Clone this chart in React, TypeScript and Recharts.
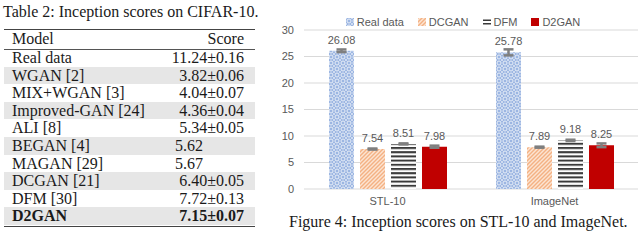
import React from "react"
import { Bar, BarChart, CartesianGrid, ErrorBar, LabelList, Legend, XAxis, YAxis } from "recharts"

// table (left side)
const tableModels = [
  "Real data",
  "WGAN [2]",
  "MIX+WGAN [3]",
  "Improved-GAN [24]",
  "ALI [8]",
  "BEGAN [4]",
  "MAGAN [29]",
  "DCGAN [21]",
  "DFM [30]",
  "D2GAN",
]
const tableScores = [
  "11.24±0.16",
  "3.82±0.06",
  "4.04±0.07",
  "4.36±0.04",
  "5.34±0.05",
  "5.62",
  "5.67",
  "6.40±0.05",
  "7.72±0.13",
  "7.15±0.07",
]

// chart (right side)
const categories = ["STL-10", "ImageNet"]
const realData = [26.08, 25.78]
const dcgan = [7.54, 7.89]
const dfm = [8.51, 9.18]
const d2gan = [7.98, 8.25]
const realErr = [0.25, 0.57]
const dcganErr = [0.1, 0.1]
const dfmErr = [0.1, 0.12]
const d2ganErr = [0.2, 0.35]
const yTicks = [0, 5, 10, 15, 20, 25, 30]

const data = categories.map((name, i) => ({
  name,
  real: realData[i],
  dcgan: dcgan[i],
  dfm: dfm[i],
  d2gan: d2gan[i],
  realErr: realErr[i],
  dcganErr: dcganErr[i],
  dfmErr: dfmErr[i],
  d2ganErr: d2ganErr[i],
}))

const series = [
  { key: "real", name: "Real data", fill: "url(#patReal)" },
  { key: "dcgan", name: "DCGAN", fill: "url(#patDcgan)" },
  { key: "dfm", name: "DFM", fill: "url(#patDfm)" },
  { key: "d2gan", name: "D2GAN", fill: "#c00000" },
]

const gray = "#595959"
const chartFont = "Liberation Sans, Arial, sans-serif"

function Patterns() {
  return (
    <defs>
      <pattern id="patReal" width="6" height="6" patternUnits="userSpaceOnUse">
        <rect width="6" height="6" fill="#9cb6e2" />
        <circle cx="3" cy="3" r="2" fill="none" stroke="#e8eef8" strokeWidth="1" />
        <circle cx="0" cy="0" r="0.9" fill="#e8eef8" />
        <circle cx="6" cy="6" r="0.9" fill="#e8eef8" />
        <circle cx="0" cy="6" r="0.9" fill="#e8eef8" />
        <circle cx="6" cy="0" r="0.9" fill="#e8eef8" />
      </pattern>
      <pattern id="patDcgan" width="4" height="4" patternUnits="userSpaceOnUse">
        <rect width="4" height="4" fill="#fce4d2" />
        <path d="M-1,1 l2,-2 M0,4 l4,-4 M3,5 l2,-2" stroke="#f4b183" strokeWidth="1.4" />
      </pattern>
      <pattern id="patDfm" width="4" height="4.2" patternUnits="userSpaceOnUse">
        <rect width="4" height="4.2" fill="#ffffff" />
        <rect y="0" width="4" height="2" fill="#3a3a3a" />
      </pattern>
    </defs>
  )
}

function LegendContent() {
  return (
    <div
      style={{
        display: "flex",
        justifyContent: "center",
        gap: 14,
        fontFamily: chartFont,
        fontSize: 11,
        color: gray,
        height: 16,
        alignItems: "center",
        paddingLeft: 8,
      }}
    >
      {series.map((s) => (
        <span key={s.key} style={{ display: "flex", alignItems: "center", gap: 3 }}>
          <svg width="8" height="8">
            {s.key === "dfm" ? (
              <g>
                <rect y="1.5" width="8" height="1.5" fill="#3a3a3a" />
                <rect y="5" width="8" height="1.5" fill="#3a3a3a" />
              </g>
            ) : (
              <rect width="8" height="8" fill={s.fill} />
            )}
          </svg>
          {s.name}
        </span>
      ))}
    </div>
  )
}

function ScoreChart() {
  return (
    <BarChart
      width={360}
      height={215}
      data={data}
      margin={{ top: 14, right: 2, left: 0, bottom: 0 }}
      barSize={25}
      barGap={6}
    >
      <Patterns />
      <CartesianGrid vertical={false} stroke="#d9d9d9" strokeWidth={1} />
      <XAxis
        dataKey="name"
        axisLine={false}
        tickLine={false}
        height={26}
        tick={{ fill: gray, fontSize: 11, fontFamily: chartFont }}
      />
      <YAxis
        domain={[0, 30]}
        ticks={yTicks}
        width={24}
        axisLine={false}
        tickLine={false}
        tickMargin={4}
        tick={{ fill: gray, fontSize: 11, fontFamily: chartFont }}
      />
      <Legend verticalAlign="top" content={() => <LegendContent />} />
      {series.map((s) => (
        <Bar key={s.key} dataKey={s.key} name={s.name} fill={s.fill} isAnimationActive={false}>
          <ErrorBar dataKey={`${s.key}Err`} width={5} strokeWidth={2.5} stroke="#7f7f7f" />
          <LabelList
            dataKey={s.key}
            position="top"
            offset={7}
            fill={gray}
            fontSize={11}
            fontFamily={chartFont}
            formatter={(v: number) => v.toFixed(2)}
          />
        </Bar>
      ))}
    </BarChart>
  )
}

const rowTop = 49
const rowH = 17.6

export default function App() {
  return (
    <div
      style={{
        position: "absolute",
        left: 0,
        top: 0,
        width: 640,
        height: 246,
        overflow: "hidden",
        background: "#fff",
        fontFamily: "Liberation Serif, Times New Roman, serif",
        color: "#1a1a1a",
      }}
    >
      <div style={{ position: "absolute", left: 3, top: 2, fontSize: 16, lineHeight: "20px" }}>
        Table 2: Inception scores on CIFAR-10.
      </div>

      <div style={{ position: "absolute", left: 4, top: 28.5, width: 251, height: 1.3, background: "#444" }} />
      <div style={{ position: "absolute", left: 12, top: 29, fontSize: 16, lineHeight: "20px" }}>Model</div>
      <div style={{ position: "absolute", left: 150, width: 94, top: 29, fontSize: 16, lineHeight: "20px", textAlign: "right" }}>
        Score
      </div>
      <div style={{ position: "absolute", left: 4, top: 48.5, width: 251, height: 0.8, background: "#555" }} />

      {tableModels.map((m, i) => {
        const top = rowTop + i * rowH
        const plain = !tableScores[i].includes("±")
        return (
          <div key={m}>
            {i % 2 === 1 && (
              <div style={{ position: "absolute", left: 4, top, width: 251, height: rowH, background: "#e6e6e6" }} />
            )}
            <div
              style={{
                position: "absolute",
                left: 12,
                top,
                fontSize: 16,
                lineHeight: `${rowH}px`,
                fontWeight: i === tableModels.length - 1 ? "bold" : "normal",
              }}
            >
              {m}
            </div>
            <div
              style={{
                position: "absolute",
                left: plain ? 175 : 140,
                width: plain ? 80 : 104,
                top,
                fontSize: 16,
                lineHeight: `${rowH}px`,
                textAlign: plain ? "left" : "right",
                fontWeight: i === tableModels.length - 1 ? "bold" : "normal",
              }}
            >
              {tableScores[i]}
            </div>
          </div>
        )
      })}
      <div style={{ position: "absolute", left: 4, top: 225.5, width: 251, height: 1.3, background: "#444" }} />

      <div style={{ position: "absolute", left: 280, top: 0 }}>
        <ScoreChart />
      </div>

      <div style={{ position: "absolute", left: 289, top: 212, fontSize: 16, lineHeight: "20px", whiteSpace: "nowrap" }}>
        Figure 4: Inception scores on STL-10 and ImageNet.
      </div>
    </div>
  )
}
